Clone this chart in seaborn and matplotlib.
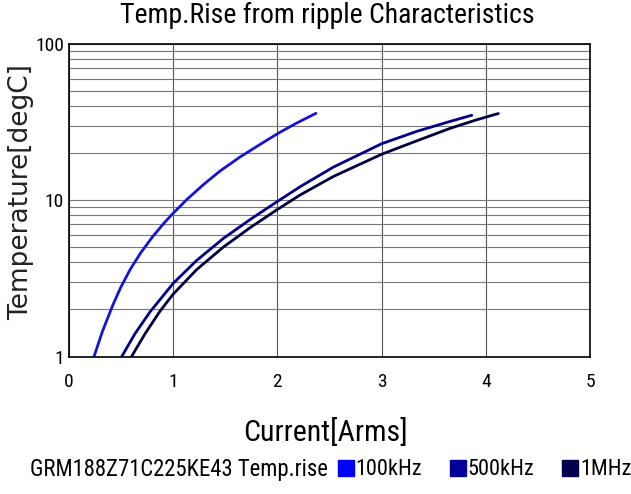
import numpy as np
import pandas as pd
import matplotlib
matplotlib.use("Agg")
import matplotlib.pyplot as plt
import matplotlib.ticker as mticker
import seaborn as sns
from matplotlib.lines import Line2D

sns.set_theme(style="white")
plt.rcParams["font.family"] = ["Roboto Condensed", "DejaVu Sans"]

# ---------------------------------------------------------------------------
# data (current [Arms] -> temp rise [degC])
# ---------------------------------------------------------------------------
cur_100k = [0.24, 0.32, 0.416, 0.496, 0.59, 0.688, 0.80, 0.912, 1.0, 1.13,
            1.29, 1.45, 1.64, 1.83, 2.01, 2.185, 2.37]
temp_100k = [1.0, 1.445, 2.10, 2.77, 3.64, 4.61, 5.82, 7.15, 8.27, 10.1,
             12.6, 15.4, 18.9, 22.7, 26.9, 31.2, 36.0]

cur_500k = [0.506, 0.633, 0.777, 1.0, 1.225, 1.48, 1.737, 1.99, 2.217,
            2.537, 3.0, 3.337, 3.66, 3.865]
temp_500k = [1.0, 1.40, 1.93, 2.94, 4.12, 5.69, 7.52, 9.73, 12.2,
             16.3, 23.0, 27.6, 32.0, 35.0]

cur_1m = [0.60, 0.73, 0.873, 1.0, 1.225, 1.48, 1.737, 1.99, 2.217,
          2.537, 3.0, 3.337, 3.66, 3.91, 4.12]
temp_1m = [1.0, 1.40, 1.95, 2.51, 3.60, 5.01, 6.67, 8.65, 10.8,
           14.2, 19.7, 24.0, 28.9, 32.7, 35.9]

series = ["100kHz", "500kHz", "1MHz"]
colors = ["#1414d8", "#000088", "#000040"]
legend_colors = ["#0000ff", "#000099", "#00004d"]

df = pd.concat([
    pd.DataFrame({"Current": cur_100k, "Temp": temp_100k, "Freq": "100kHz"}),
    pd.DataFrame({"Current": cur_500k, "Temp": temp_500k, "Freq": "500kHz"}),
    pd.DataFrame({"Current": cur_1m, "Temp": temp_1m, "Freq": "1MHz"}),
])

fig = plt.figure(figsize=(6.31, 4.94), dpi=100)
ax = fig.add_axes([0.1094, 0.2783, 0.8256, 0.6326])

sns.lineplot(data=df, x="Current", y="Temp", hue="Freq", hue_order=series,
             palette=colors, linewidth=2.0, ax=ax, legend=False, sort=True)

ax.set_yscale("log")
ax.set_xlim(0, 5)
ax.set_ylim(1, 100)
ax.set_xticks([0, 1, 2, 3, 4, 5])
ax.set_yticks([1, 10, 100])
ax.set_yticklabels(["1", "10", "100"])
ax.xaxis.set_minor_locator(mticker.NullLocator())
ax.yaxis.set_minor_locator(mticker.LogLocator(base=10, subs=np.arange(2, 10)))
ax.yaxis.set_minor_formatter(mticker.NullFormatter())
ax.grid(True, which="major", axis="x", color="#555555", linewidth=0.8)
ax.grid(True, which="both", axis="y", color="#777777", linewidth=0.8)
ax.tick_params(which="both", length=0, labelsize=14, colors="black")
ax.tick_params(axis="x", pad=12)
for s in ax.spines.values():
    s.set_color("black")
    s.set_linewidth(1.2)
ax.set_xlabel("")
ax.set_ylabel("")

fig.text(0.519, 0.968, "Temp.Rise from ripple Characteristics",
         ha="center", va="center", fontsize=20, color="black")
fig.text(0.516, 0.1255, "Current[Arms]", ha="center", va="center",
         fontsize=21.5, color="black")
fig.text(0.034, 0.611, "Temperature[degC]", ha="center", va="center",
         rotation=90, fontsize=19, color="#222222", family="DejaVu Sans")

fig.text(0.047, 0.049, "GRM188Z71C225KE43 Temp.rise", ha="left",
         va="center", fontsize=16.4, color="black")
handles = [Line2D([], [], marker="s", linestyle="none", markersize=11.5,
                  markerfacecolor=c, markeredgecolor=c) for c in legend_colors]
fig.legend(handles, series, loc="center left", bbox_to_anchor=(0.516, 0.049),
           ncol=3, frameon=False, fontsize=16, handlelength=0.8,
           handletextpad=0.05, columnspacing=1.2, borderpad=0,
           labelcolor="black")

fig.savefig("out.png", dpi=100)
